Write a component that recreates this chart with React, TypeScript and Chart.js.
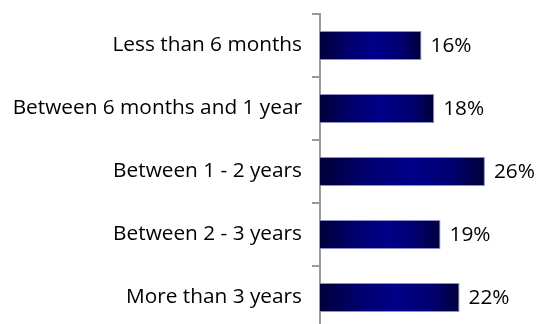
import React, { useEffect, useRef } from "react";
import { Chart, registerables } from "chart.js";
Chart.register(...registerables);

const categories = [
  "Less than 6 months",
  "Between 6 months and 1 year",
  "Between 1 - 2 years",
  "Between 2 - 3 years",
  "More than 3 years",
];
const values = [16, 18, 26, 19, 22];
const FONT = "'Open Sans', sans-serif";
const FONT_SIZE = 20.8;

function barGradient(c: any) {
  const chart = c.chart;
  const xs = chart.scales?.x;
  if (!xs || c.raw == null) return "#000080";
  const x0 = xs.getPixelForValue(0);
  const x1 = xs.getPixelForValue(c.raw);
  if (!isFinite(x0) || !isFinite(x1) || x1 === x0) return "#000080";
  const g = chart.ctx.createLinearGradient(x0, 0, x1, 0);
  g.addColorStop(0, "#00003a");
  g.addColorStop(0.3, "#000070");
  g.addColorStop(0.55, "#00008a");
  g.addColorStop(0.8, "#000070");
  g.addColorStop(1, "#00003a");
  return g;
}

const valueLabels = {
  id: "valueLabels",
  afterDatasetsDraw(chart: any) {
    const ctx = chart.ctx;
    const meta = chart.getDatasetMeta(0);
    ctx.save();
    ctx.font = `${FONT_SIZE}px ${FONT}`;
    ctx.fillStyle = "#000";
    ctx.textAlign = "left";
    ctx.textBaseline = "middle";
    meta.data.forEach((el: any, i: number) => {
      ctx.fillText(values[i] + "%", el.x + 9, el.y + 1);
    });
    ctx.restore();
  },
};

export default function App() {
  const ref = useRef<HTMLCanvasElement>(null);
  useEffect(() => {
    document.body.style.margin = "0";
    document.body.style.overflow = "hidden";
    const chart = new Chart(ref.current!, {
      type: "bar",
      data: {
        labels: categories,
        datasets: [
          {
            data: values,
            backgroundColor: barGradient as any,
            borderColor: "rgba(130,130,190,0.9)",
            borderWidth: 1,
            categoryPercentage: 1,
            barPercentage: 0.46,
          },
        ],
      },
      options: {
        indexAxis: "y",
        animation: false,
        responsive: false,
        devicePixelRatio: 1,
        layout: { padding: { top: 14, right: 28.7, bottom: 0, left: 0 } },
        plugins: { legend: { display: false }, tooltip: { enabled: false } },
        scales: {
          x: { display: false, min: 0, max: 30 },
          y: {
            z: 1,
            afterFit: (s: any) => {
              s.width = 320;
              s.paddingTop = 0;
              s.paddingBottom = 0;
            },
            grid: {
              drawOnChartArea: false,
              drawTicks: true,
              tickLength: 8,
              color: "#9a9a9a",
              lineWidth: 2,
            },
            border: { display: true, color: "#9a9a9a", width: 2 },
            ticks: {
              padding: 10,
              color: "#000",
              font: { family: FONT, size: FONT_SIZE },
            },
          },
        },
      },
      plugins: [valueLabels],
    });
    return () => chart.destroy();
  }, []);
  return (
    <div style={{ position: "fixed", left: 0, top: 0, width: 539, height: 324, overflow: "hidden", background: "#fff" }}>
      <canvas ref={ref} width={539} height={329} style={{ display: "block", width: 539, height: 329 }} />
    </div>
  );
}
